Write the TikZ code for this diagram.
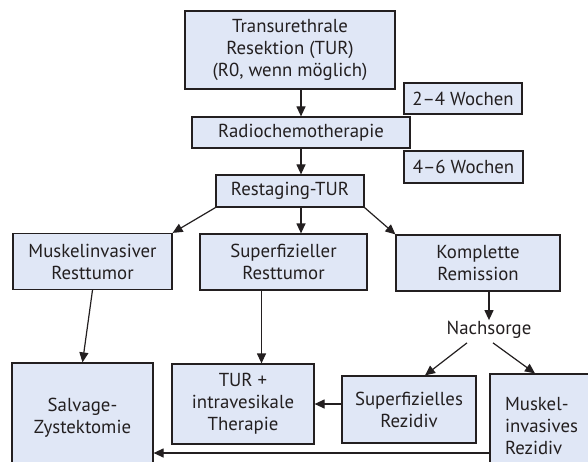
\documentclass[tikz,border=0pt]{standalone}
\usepackage{fontspec}
\setmainfont{PT Sans}
\usetikzlibrary{arrows.meta}
\definecolor{boxfill}{RGB}{224,231,246}
\definecolor{ink}{RGB}{35,31,32}
\tikzset{
  box/.style={draw=ink, fill=boxfill, line width=1.2pt, inner sep=0pt, align=center, text=ink,
    font=\fontsize{18.8}{22}\selectfont},
  plain/.style={inner sep=1pt, text=ink, font=\fontsize{18.8}{22}\selectfont},
  arr/.style={draw=ink, line width=1.2pt, -{Triangle[length=10pt,width=9pt]}}
}
\begin{document}
\begin{tikzpicture}[x=1pt,y=-1pt]
\useasboundingbox (0,0) rectangle (588,462);
\clip (0,0) rectangle (588,462);
\fill[white] (0,0) rectangle (588,462);
\node[box, minimum width=210pt, minimum height=78pt] (tur) at (290,50) {Transurethrale\\Resektion (TUR)\\(R0, wenn möglich)};
\node[box, minimum width=118pt, minimum height=31pt] (w24) at (463,98.5) {2–4 Wochen};
\node[box, minimum width=218pt, minimum height=31pt] (rct) at (301,132.5) {Radiochemotherapie};
\node[box, minimum width=119pt, minimum height=32pt] (w46) at (463.5,167) {4–6 Wochen};
\node[box, minimum width=148pt, minimum height=32pt] (rst) at (290,191) {Restaging-TUR};
\node[box, minimum width=159pt, minimum height=56pt] (mir) at (92.5,261.5) {Muskelinvasiver\\Resttumor};
\node[box, minimum width=167pt, minimum height=56pt] (sfr) at (283.5,262) {Superfizieller\\Resttumor};
\node[box, minimum width=164pt, minimum height=56pt] (kr) at (478,263) {Komplette\\Remission};
\node[plain] (nach) at (489,330) {Nachsorge};
\node[box, minimum width=141pt, minimum height=110pt] (salv) at (82.5,418) {Salvage-\\Zystektomie};
\node[box, minimum width=142pt, minimum height=80pt] (turiv) at (243,404) {TUR +\\intravesikale\\Therapie};
\node[box, minimum width=134pt, minimum height=67pt] (sfrez) at (409,409.5) {Superfizielles\\Rezidiv};
\node[box, minimum width=110pt, minimum height=104pt, text width=80pt, align=left] (mrez) at (545,426) {Muskel-\\invasives\\Rezidiv};
\coordinate (low) at (0,453);
\draw[arr] (rct.north |- tur.south) -- (rct.north);
\draw[arr] (rct.south) -- (rct.south |- rst.north);
\draw[arr] (rst.south west) -- (mir.north east);
\draw[arr] (rct.south |- rst.south) -- (rct.south |- sfr.north);
\draw[arr] (rst.south east) -- (kr.north west);
\draw[arr] (mir.south) -- (salv.north);
\draw[arr] ([xshift=-22pt]sfr.south) -- ([xshift=-22pt]sfr.south |- turiv.north);
\draw[arr] (nach.north -| kr.south) ++(11pt,0) coordinate (kn) (kr.south -| kn) -- (kn);
\draw[arr] ([xshift=-22pt,yshift=-3pt]nach.south) -- ([xshift=16pt]sfrez.north);
\draw[arr] ([xshift=4pt,yshift=-3pt]nach.south) -- ([xshift=-10pt]mrez.north);
\draw[arr] (turiv.east -| sfrez.west) -- (turiv.east);
\draw[arr] (mrez.west |- low) -- (salv.east |- low);
\end{tikzpicture}
\end{document}
